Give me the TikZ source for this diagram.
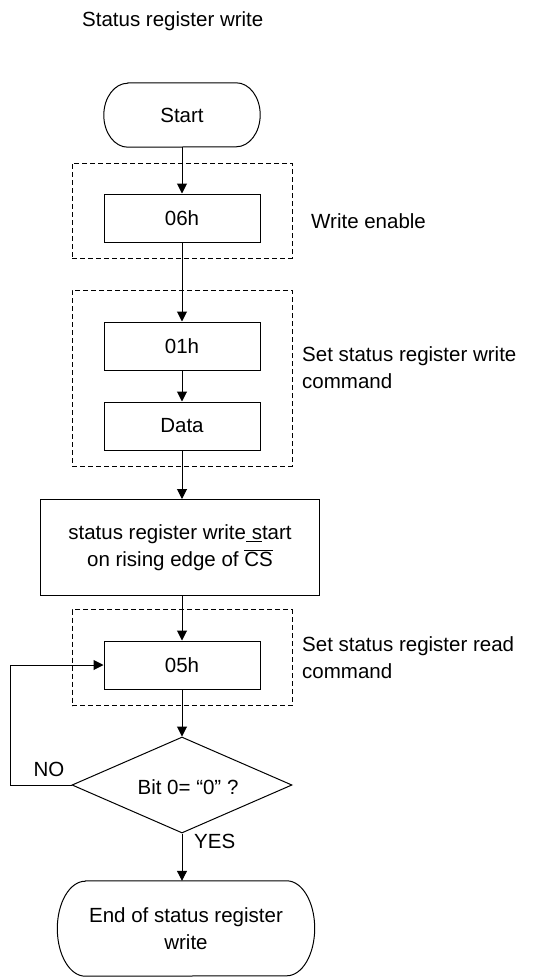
\documentclass[tikz,border=0pt]{standalone}
\usepackage{fontspec}
\setmainfont{Liberation Sans}
\usetikzlibrary{shapes.geometric,arrows.meta}
\begin{document}
\begin{tikzpicture}[x=1pt,y=-1pt,
  every node/.style={font=\fontsize{20.5}{27}\selectfont},
  flowbox/.style={draw,line width=1pt,minimum width=156pt,minimum height=48pt,inner sep=0pt},
  groupbox/.style={draw,dashed,dash pattern=on 5pt off 3pt,line width=0.8pt,minimum width=220pt,inner sep=0pt},
  ghost/.style={inner sep=0pt,align=center},
  decision/.style={draw,diamond,line width=1pt,minimum width=220pt,minimum height=96pt,aspect=2.29,inner sep=0pt},
  note/.style={inner sep=0pt,anchor=north west,align=left},
  flow/.style={line width=1pt,-{Triangle[length=10pt,width=10pt]}},
  plain/.style={line width=1pt}
]
\useasboundingbox (0,0) rectangle (536,977);

% title
\node[inner sep=0pt,anchor=base west] (title) at (82,26) {Status register write};

% dashed groups
\node[groupbox,minimum height=95pt] (g1) at (182,210.5) {};
\node[groupbox,minimum height=176pt] (g2) at (182,378) {};
\node[groupbox,minimum height=96pt] (g3) at (182,657.5) {};

% start terminator
\node[ghost,minimum width=156pt,minimum height=64pt] (start) at (182,115) {Start};
\draw[plain] ([xshift=24pt]start.north west) -- ([xshift=-24pt]start.north east)
  arc[start angle=90,end angle=-90,x radius=24pt,y radius=32pt]
  -- ([xshift=24pt]start.south west)
  arc[start angle=270,end angle=90,x radius=24pt,y radius=32pt] -- cycle;

% boxes
\node[flowbox] (b06) at (182,218) {06h};
\node[flowbox] (b01) at (182,346) {01h};
\node[flowbox] (data) at (182,426) {Data};
\node[draw,line width=1pt,minimum width=279pt,minimum height=96pt,inner sep=0pt,align=center,yshift=-1.5pt] (big) at (180,546)
  {status register write\underline{\ s}tart\\on rising edge of $\overline{\mbox{CS}}$};
\node[flowbox] (b05) at (182,665) {05h};
\node[decision] (dec) at (182,785) {};
\node[inner sep=0pt] (dectext) at (188,787) {Bit 0= “0” ?};

% end terminator
\node[ghost,minimum width=257pt,minimum height=95pt] (end) at (186,928.5) {End of status register\\write};
\draw[plain] ([xshift=28pt]end.north west) -- ([xshift=-28pt]end.north east)
  arc[start angle=90,end angle=-90,x radius=28pt,y radius=47.5pt]
  -- ([xshift=28pt]end.south west)
  arc[start angle=270,end angle=90,x radius=28pt,y radius=47.5pt] -- cycle;

% notes
\node[note] (n1) at (311,213.5) {Write enable};
\node[note] (n2) at (302,346) {Set status register write\\command};
\node[note] (n3) at (302,636) {Set status register read\\command};
\node[inner sep=0pt,anchor=base] (no) at (49,776.7) {NO};
\node[inner sep=0pt,anchor=base west] (yes) at (194,848) {YES};

% connectors
\draw[flow] (start.south) -- (b06.north);
\draw[flow] (b06.south) -- (b01.north);
\draw[flow] (b01.south) -- (data.north);
\draw[flow] (data.south) -- (data.south |- big.north);
\draw[flow] (data.south |- big.south) -- (b05.north);
\draw[flow] (b05.south) -- (dec.north);
\coordinate (loopb) at (10,785);
\coordinate (loopt) at (10,665);
\draw[flow] (dec.west) -- (loopb) -- (loopt) -- (b05.west);
\draw[flow] (dec.south) -- (dec.south |- end.north);
\end{tikzpicture}
\end{document}
